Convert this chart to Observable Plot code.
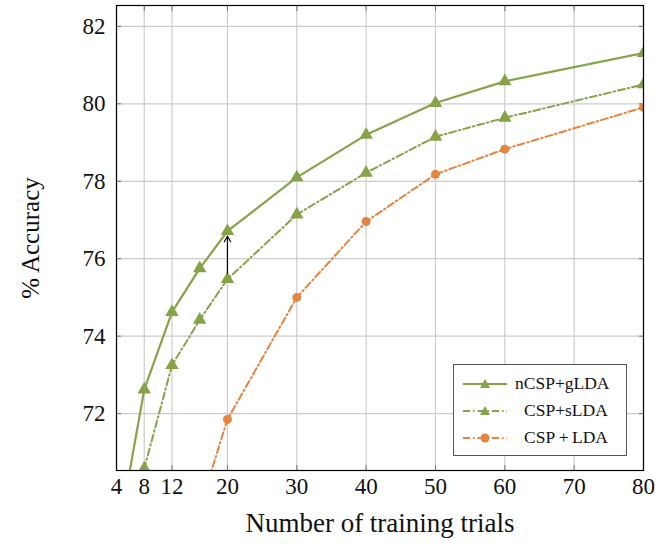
<!DOCTYPE html>
<html>
<head>
<meta charset="utf-8">
<script src="https://cdn.jsdelivr.net/npm/d3@7"></script>
<script src="https://cdn.jsdelivr.net/npm/@observablehq/plot@0.6"></script>
<style>
  body { margin: 0; background: #fff; }
  #wrap { position: relative; width: 655px; height: 546px; font-family: "Liberation Serif", "DejaVu Serif", serif; }
  #legend { position: absolute; left: 453px; top: 364px; width: 174px; height: 92px; border: 1px solid #555; background: #fff; box-sizing: border-box; font-size: 17.5px; color: #111; }
  .row { display: flex; align-items: center; height: 27px; margin-left: 9px; }
  .row:first-child { margin-top: 5px; }
</style>
</head>
<body>
<div id="wrap"></div>
<script>
const trials = [4, 8, 12, 16, 20, 30, 40, 50, 60, 80];
const nCSP_gLDA = [68.6, 72.62, 74.62, 75.75, 76.71, 78.1, 79.2, 80.02, 80.58, 81.31];
const trialsS = [4, 8, 12, 16, 20, 30, 40, 50, 60, 80];
const CSP_sLDA = [66.5, 70.58, 73.25, 74.42, 75.47, 77.14, 78.22, 79.15, 79.64, 80.5];
const trialsL = [16, 20, 30, 40, 50, 60, 80];
const CSP_LDA = [69.55, 71.85, 75.0, 76.96, 78.18, 78.83, 79.91];
const xTicks = [4, 8, 12, 20, 30, 40, 50, 60, 70, 80];
const yTicks = [72, 74, 76, 78, 80, 82];
const seriesNames = ["nCSP+gLDA", "CSP+sLDA", "CSP\u2009+\u2009LDA"];
const arrowFrom = {x: 20, y: 75.47};
const arrowTo = {x: 20, y: 76.71};

const green = "#86a34a";
const orange = "#e3843f";

const dA = trials.map((t, i) => ({x: t, y: nCSP_gLDA[i]}));
const dB = trialsS.map((t, i) => ({x: t, y: CSP_sLDA[i]}));
const dC = trialsL.map((t, i) => ({x: t, y: CSP_LDA[i]}));
const blank = () => "";

const chart = Plot.plot({
  width: 655, height: 546,
  marginLeft: 116, marginRight: 12, marginTop: 5, marginBottom: 76,
  style: {fontFamily: "Liberation Serif, serif", fontSize: "23px", color: "#111", background: "#fff"},
  x: {domain: [4, 80], ticks: xTicks},
  y: {domain: [70.53, 82.54], ticks: yTicks},
  marks: [
    Plot.gridX(xTicks, {stroke: "#ccc", strokeOpacity: 1, strokeWidth: 1.2}),
    Plot.gridY(yTicks, {stroke: "#ccc", strokeOpacity: 1, strokeWidth: 1.2}),
    Plot.axisX(xTicks, {anchor: "bottom", tickSize: 0, tickPadding: 7, label: null, fontSize: 23}),
    Plot.axisX(xTicks, {anchor: "bottom", tickSize: -5, tickFormat: blank, label: null, stroke: "#777"}),
    Plot.axisX(xTicks, {anchor: "top", tickSize: -5, tickFormat: blank, label: null, stroke: "#777"}),
    Plot.axisY(yTicks, {anchor: "left", tickSize: 0, tickPadding: 11, label: null, fontSize: 23}),
    Plot.axisY(yTicks, {anchor: "left", tickSize: -5, tickFormat: blank, label: null, stroke: "#777"}),
    Plot.axisY(yTicks, {anchor: "right", tickSize: -5, tickFormat: blank, label: null, stroke: "#777"}),
    Plot.line(dC, {x: "x", y: "y", stroke: orange, strokeWidth: 2, strokeDasharray: "7,3,1.5,3", clip: true}),
    Plot.dot(dC, {x: "x", y: "y", fill: orange, r: 4.5, clip: true}),
    Plot.line(dB, {x: "x", y: "y", stroke: green, strokeWidth: 2, strokeDasharray: "7,3,1.5,3", clip: true}),
    Plot.dot(dB, {x: "x", y: "y", fill: green, symbol: "triangle", r: 5, clip: true}),
    Plot.line(dA, {x: "x", y: "y", stroke: green, strokeWidth: 2.2, clip: true}),
    Plot.dot(dA, {x: "x", y: "y", fill: green, symbol: "triangle", r: 5, clip: true}),
    Plot.arrow([{x1: arrowFrom.x, y1: arrowFrom.y, x2: arrowTo.x, y2: arrowTo.y}], {x1: "x1", y1: "y1", x2: "x2", y2: "y2", stroke: "#000", strokeWidth: 1.2, insetStart: 6, insetEnd: 5, headLength: 8, bend: 0}),
    Plot.frame({stroke: "#000", strokeWidth: 1.2}),
    Plot.text(["Number of training trials"], {frameAnchor: "bottom", dy: 61, fontSize: 27, fill: "#111"}),
    Plot.text(["% Accuracy"], {frameAnchor: "left", textAnchor: "middle", dx: -86, rotate: -90, fontSize: 25, fill: "#111"})
  ]
});

const wrap = document.getElementById("wrap");
wrap.appendChild(chart);

function swatch(color, dash, marker) {
  const w = 44, h = 16;
  let m = marker === "triangle"
    ? `<path d="M${w/2},${h/2-5} L${w/2+5},${h/2+4} L${w/2-5},${h/2+4}Z" fill="${color}"/>`
    : `<circle cx="${w/2}" cy="${h/2}" r="4.5" fill="${color}"/>`;
  return `<svg width="${w}" height="${h}"><line x1="0" y1="${h/2}" x2="${w}" y2="${h/2}" stroke="${color}" stroke-width="2" ${dash ? `stroke-dasharray="${dash}"` : ""}/>${m}</svg>`;
}
const legend = document.createElement("div");
legend.id = "legend";
const specs = [[green, null, "triangle"], [green, "7,3,1.5,3", "triangle"], [orange, "7,3,1.5,3", "circle"]];
const gaps = [8, 17, 17];
legend.innerHTML = seriesNames.map((n, i) => `<div class="row">${swatch(...specs[i])}<span style="margin-left:${gaps[i]}px">${n}</span></div>`).join("");
wrap.appendChild(legend);
</script>
</body>
</html>
